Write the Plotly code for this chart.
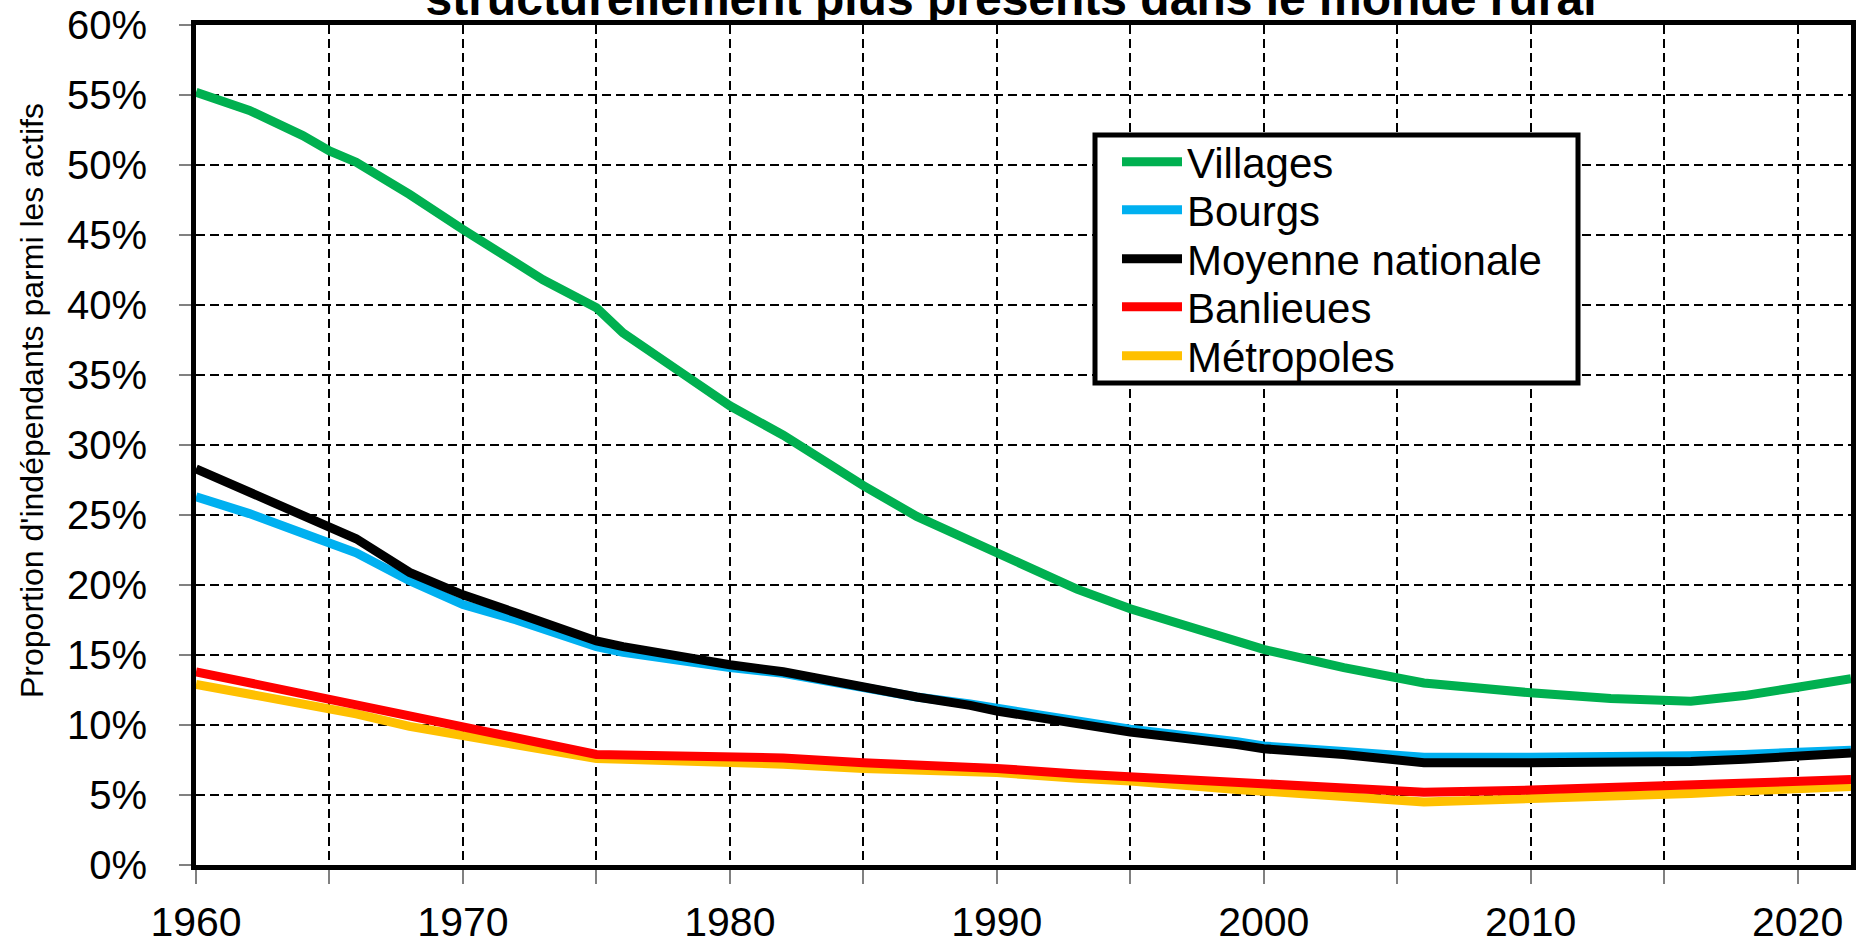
import plotly.graph_objects as go

years = [1960, 1962, 1964, 1965, 1966, 1968, 1970, 1972, 1973, 1975, 1976, 1978, 1980, 1982,
         1985, 1987, 1989, 1990, 1993, 1995, 1999, 2000, 2003, 2006, 2010, 2013, 2016, 2018,
         2020, 2022]

villages = [55.2, 53.9, 52.1, 51.0, 50.2, 47.9, 45.4, 42.9, 41.8, 39.8, 38.0, 35.4, 32.8, 30.7,
            27.1, 24.9, 23.2, 22.2, 19.7, 18.3, 16.1, 15.4, 14.1, 13.0, 12.3, 11.9, 11.7, 12.1,
            12.7, 13.3]
bourgs = [26.3, 25.1, 23.7, 23.0, 22.3, 20.3, 18.6, 17.5, 16.9, 15.6, 15.2, 14.6, 14.1, 13.7,
          12.7, 12.0, 11.5, 11.2, 10.3, 9.7, 8.8, 8.5, 8.1, 7.7, 7.7, 7.7, 7.8, 7.9,
          8.0, 8.2]
moyenne = [28.3, 26.6, 24.9, 24.1, 23.3, 20.9, 19.3, 18.0, 17.3, 16.0, 15.6, 14.9, 14.3, 13.8,
           12.7, 12.0, 11.4, 11.0, 10.1, 9.5, 8.6, 8.3, 7.9, 7.3, 7.3, 7.3, 7.4, 7.55,
           7.75, 8.0]
banlieues = [13.8, 13.0, 12.3, 11.9, 11.5, 10.7, 9.8, 9.0, 8.7, 7.9, 7.85, 7.8, 7.7, 7.65,
             7.3, 7.15, 7.0, 6.9, 6.5, 6.3, 5.85, 5.75, 5.5, 5.2, 5.35, 5.55, 5.7, 5.85,
             5.95, 6.1]
metropoles = [12.9, 12.2, 11.6, 11.2, 10.8, 9.9, 9.2, 8.5, 8.2, 7.6, 7.55, 7.45, 7.3, 7.2,
              6.9, 6.8, 6.65, 6.6, 6.2, 6.0, 5.4, 5.3, 4.9, 4.5, 4.7, 4.9, 5.1, 5.3,
              5.45, 5.6]

x_tickvals = [1960, 1965, 1970, 1975, 1980, 1985, 1990, 1995, 2000, 2005, 2010, 2015, 2020]
x_ticktext = ["1960", "", "1970", "", "1980", "", "1990", "", "2000", "", "2010", "", "2020"]

title_text = "structurellement plus présents dans le monde rural"
y_title = "Proportion d'indépendants parmi les actifs"

FONT = "Liberation Sans, Arial, sans-serif"
LW = 9

W, H = 1857, 937
plot_left, plot_right, plot_top, plot_bottom = 196, 1851, 25, 865
ml = plot_left
mr = W - plot_right
mt = plot_top
mb = H - plot_bottom
pw = plot_right - plot_left
ph = plot_bottom - plot_top


def px_x(p):
    return (p - plot_left) / pw


def px_y(p):
    return (plot_bottom - p) / ph


# (name, values, colour, legend id, legend row centre in px) ; drawing order as listed
series = [
    ("Villages", villages, "#00B050", "legend", 162),
    ("Bourgs", bourgs, "#00B0F0", "legend2", 210),
    ("Moyenne nationale", moyenne, "#000000", "legend3", 259),
    ("Métropoles", metropoles, "#FFC000", "legend5", 356),
    ("Banlieues", banlieues, "#FF0000", "legend4", 307),
]

fig = go.Figure()
legends = {}
for name, vals, color, leg, yc in series:
    fig.add_trace(go.Scatter(x=years, y=vals, name=name, mode="lines",
                             line=dict(color=color, width=LW), legend=leg))
    legends[leg] = dict(x=px_x(1117), y=px_y(yc), xanchor="left", yanchor="middle",
                        bgcolor="rgba(0,0,0,0)", borderwidth=0,
                        font=dict(size=42, family=FONT, color="black"),
                        itemwidth=60)

fig.update_layout(
    width=W, height=H,
    margin=dict(l=ml, r=mr, t=mt, b=mb, pad=0),
    paper_bgcolor="white", plot_bgcolor="white",
    font=dict(family=FONT, color="black"),
    title=dict(text="<b>" + title_text + "</b>", font=dict(size=48, color="black", family=FONT),
               x=px_x(1011), xref="paper", xanchor="center",
               y=1, yref="paper", yanchor="bottom", pad=dict(b=10), automargin=False),
    showlegend=True,
    **legends,
    shapes=[dict(type="rect", xref="paper", yref="paper",
                 x0=px_x(1095), x1=px_x(1578), y0=px_y(383), y1=px_y(135),
                 line=dict(color="black", width=5), fillcolor="white", layer="above")],
    xaxis=dict(range=[1960, 2022], tickmode="array", tickvals=x_tickvals, ticktext=x_ticktext,
               showline=True, linecolor="black", linewidth=5, mirror=True,
               ticks="outside", ticklen=14, tickcolor="#808080", tickwidth=1.5,
               tickfont=dict(size=41, family=FONT, color="black"),
               showgrid=True, gridcolor="black", gridwidth=2, griddash="9px,5px",
               zeroline=False, ticklabelstandoff=3, automargin=False,
               ticklabeloverflow="allow"),
    yaxis=dict(range=[0, 60], dtick=5, ticksuffix="%",
               showline=True, linecolor="black", linewidth=5, mirror=True,
               ticks="outside", ticklen=12, tickcolor="#808080", tickwidth=1.5,
               tickfont=dict(size=40, family=FONT, color="black"),
               showgrid=True, gridcolor="black", gridwidth=2, griddash="9px,5px",
               zeroline=False, ticklabelstandoff=24, automargin=False,
               ticklabeloverflow="allow"),
    annotations=[dict(text=y_title, textangle=-90, xref="paper", yref="paper",
                      x=px_x(32), y=px_y(401), xanchor="center", yanchor="middle",
                      showarrow=False, font=dict(size=32, family=FONT, color="black"))],
)

# the page body has a default 8px margin and may show scrollbars; remove both so the
# figure fills the window exactly
fig.write_html(
    "out.html",
    config={"displayModeBar": False},
    post_script=("document.body.style.margin='0px';"
                 "document.body.style.overflow='hidden';"
                 "document.documentElement.style.overflow='hidden';"),
)
